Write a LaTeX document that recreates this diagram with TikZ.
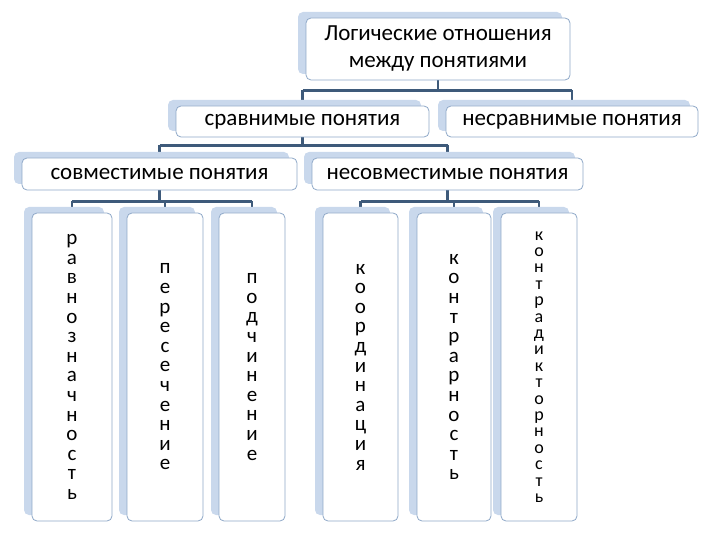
\documentclass[tikz,border=0pt]{standalone}
\usepackage{fontspec}
\setmainfont{Carlito}
\usetikzlibrary{shadows,backgrounds}
\definecolor{shad}{HTML}{C9D8EC}
\definecolor{bord}{HTML}{8FA8C8}
\definecolor{conn}{HTML}{3E5A7A}
\tikzset{
  box/.style={draw=bord, line width=0.8pt, fill=white, rounded corners=5pt, align=center,
    font=\fontsize{23}{27}\selectfont, inner sep=0pt,
    general shadow={shadow xshift=-8pt, shadow yshift=6pt, fill=shad, draw=none}},
  leaf/.style={box, font=\fontsize{21}{19.6}\selectfont, minimum height=308pt},
  conline/.style={draw=conn, line width=2.4pt}
}
\begin{document}
\begin{tikzpicture}[x=1pt,y=-1pt]
\useasboundingbox (0,0) rectangle (720,540);
\node[box, minimum width=264pt, minimum height=62pt, font=\fontsize{23}{27}\selectfont] (top) at (438,49) {Логические отношения\\между понятиями};
\node[box, minimum width=253pt, minimum height=31pt] (cmp) at (302.5,121.5) {сравнимые понятия};
\node[box, minimum width=252pt, minimum height=31pt] (ncmp) at (572,121.5) {несравнимые понятия};
\node[box, minimum width=275pt, minimum height=32pt] (sov) at (159.5,174) {совместимые понятия};
\node[box, minimum width=271pt, minimum height=32pt] (nsov) at (447.5,174) {несовместимые понятия};
\node[leaf, minimum width=80pt] (l1) at (72,367) {р\\а\\в\\н\\о\\з\\н\\а\\ч\\н\\о\\с\\т\\ь};
\node[leaf, minimum width=76pt] (l2) at (165,367) {п\\е\\р\\е\\с\\е\\ч\\е\\н\\и\\е};
\node[leaf, minimum width=66pt] (l3) at (252,367) {п\\о\\д\\ч\\и\\н\\е\\н\\и\\е};
\node[leaf, minimum width=75pt] (l4) at (360.5,367) {к\\о\\о\\р\\д\\и\\н\\а\\ц\\и\\я};
\node[leaf, minimum width=74pt] (l5) at (454,367) {к\\о\\н\\т\\р\\а\\р\\н\\о\\с\\т\\ь};
\node[leaf, minimum width=76pt, font=\fontsize{18}{16.4}\selectfont] (l6) at (539,367) {к\\о\\н\\т\\р\\а\\д\\и\\к\\т\\о\\р\\н\\о\\с\\т\\ь};
\begin{pgfonlayer}{background}
\coordinate (j1) at ([yshift=-10pt]top.south);
\draw[conline] (top.south) -- (j1) (j1 -| cmp.north) -- (j1 -| ncmp.north);
\draw[conline] (j1 -| cmp.north) -- ([yshift=-6pt]cmp.north) (j1 -| ncmp.north) -- ([yshift=-6pt]ncmp.north);
\coordinate (j2) at ([yshift=-8pt]cmp.south);
\draw[conline] (cmp.south) -- (j2) (j2 -| sov.north) -- (j2 -| nsov.north);
\draw[conline] (j2 -| sov.north) -- ([yshift=-6pt]sov.north) (j2 -| nsov.north) -- ([yshift=-6pt]nsov.north);
\coordinate (j3) at ([yshift=-11pt]sov.south);
\draw[conline] (sov.south) -- (j3) (j3 -| l1.north) -- (j3 -| l3.north);
\foreach \n in {l1,l2,l3} \draw[conline] (j3 -| \n.north) -- ([yshift=-6pt]\n.north);
\coordinate (j4) at ([yshift=-11pt]nsov.south);
\draw[conline] (nsov.south) -- (j4) (j4 -| l4.north) -- (j4 -| l6.north);
\foreach \n in {l4,l5,l6} \draw[conline] (j4 -| \n.north) -- ([yshift=-6pt]\n.north);
\end{pgfonlayer}
\end{tikzpicture}
\end{document}
